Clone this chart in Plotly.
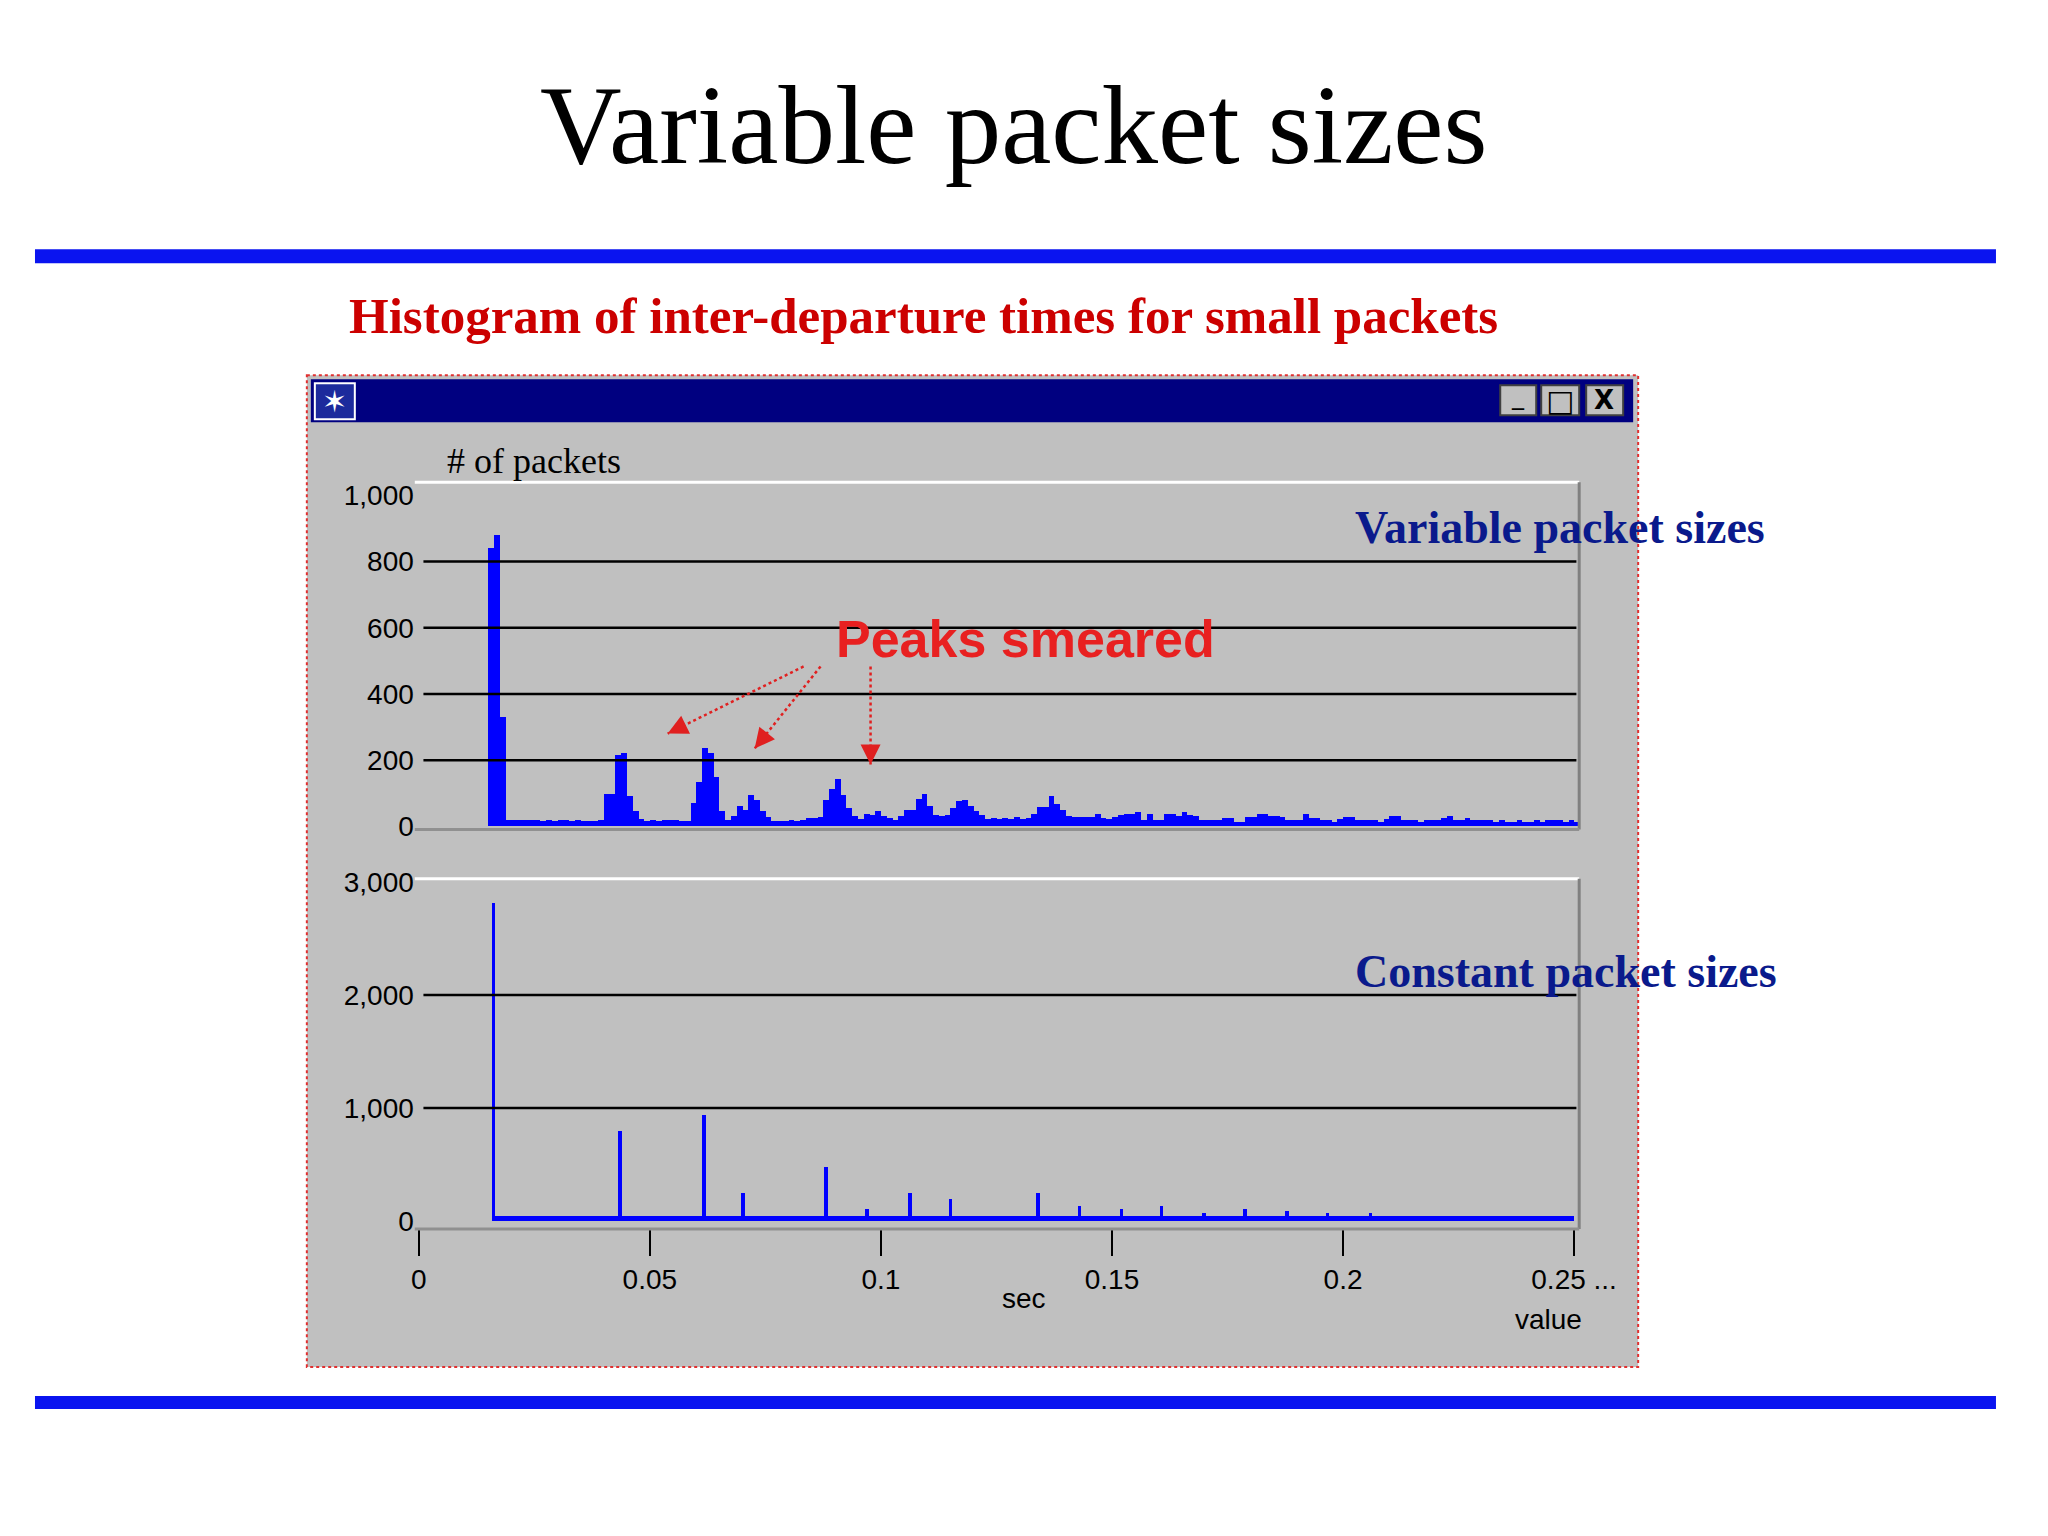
import plotly.graph_objects as go
from plotly.subplots import make_subplots

# top histogram: bin width 0.00125 s, counts per bin starting at bin 12
bin_width = 0.00125
first_bin = 12
var_counts = [
    840, 880, 330, 20, 20, 20, 20, 20, 20, 15, 20, 15, 20, 20, 15, 20, 15, 15, 15, 20,
    98, 98, 215, 220, 90, 45, 23, 15, 20, 15, 20, 20, 20, 15, 15,
    70, 135, 235, 220, 150, 46, 20,
    30, 60, 50, 95, 80, 45, 28, 15, 15, 15, 18, 15, 20, 25, 25, 28,
    80, 114, 144, 95, 55, 30, 23, 37, 33, 45, 30, 25, 20, 30, 48, 48, 83, 98, 60, 35,
    30, 35, 55, 75, 78, 62, 45, 35, 23, 25, 22, 25, 22, 28, 22, 25,
    36, 58, 58, 90, 68, 50, 32, 28, 28, 28, 28, 36, 26, 23, 28, 33, 38, 38, 43, 18,
    36, 20, 20, 36, 36, 30, 43, 33, 30, 20, 20, 20, 20, 26, 26, 14, 14, 28, 28, 36,
    36, 30, 30, 28, 20, 20, 20, 36, 26, 26, 20, 20, 13, 23, 28, 28, 20, 20, 20, 20,
    13, 23, 30, 30, 20, 20, 20, 13, 20, 20, 20, 26, 30, 20, 20, 26, 20, 20, 20, 20,
    13, 20, 13, 13, 20, 13, 13, 20, 13, 20, 20, 20, 13, 20, 13, 20,
]
var_x = [(first_bin + i + 0.5) * bin_width for i in range(len(var_counts))]

# bottom histogram: isolated spikes
const_x = [0.0161, 0.0435, 0.0616, 0.0701, 0.0760, 0.0881, 0.0969, 0.1062, 0.1150, 0.1250,
           0.1339, 0.1429, 0.1520, 0.1607, 0.1698, 0.1788, 0.1879, 0.1966, 0.2059, 0.2147,
           0.2243, 0.2336, 0.2424]
const_counts = [2820, 800, 940, 250, 20, 485, 110, 250, 200, 45,
                250, 135, 110, 135, 70, 110, 90, 70, 70, 20,
                45, 45, 20]
const_floor = 45

top_grid = [200, 400, 600, 800]
bottom_grid = [1000, 2000]
top_ticks = [0, 200, 400, 600, 800, 1000]
bottom_ticks = [0, 1000, 2000, 3000]
x_ticks = [0, 0.05, 0.1, 0.15, 0.2, 0.25]
x_ticktext = ['0', '0.05', '0.1', '0.15', '0.2', '0.25 ...']

W, H = 2048, 1536
# the page shows the figure slightly shrunk and offset; compensate
SX, OX, SY, OY = 0.98, 11, 0.983, 20
def px(x): return (x - OX) / (SX * W)
def py(y): return 1 - (y - OY) / (SY * H)

fig = make_subplots(rows=2, cols=1)
fig.add_trace(go.Bar(x=var_x, y=var_counts, width=bin_width, marker_color='#0000ff',
                     marker_line_width=0), row=1, col=1)
fig.add_trace(go.Bar(x=[(0.016 + 0.25) / 2], y=[const_floor], width=0.25 - 0.016,
                     marker_color='#0000ff', marker_line_width=0), row=2, col=1)
fig.add_trace(go.Bar(x=const_x, y=const_counts, width=0.0008, marker_color='#0000ff',
                     marker_line_width=0), row=2, col=1)

tickfont = dict(family='Liberation Sans Narrow, Liberation Sans', size=28, color='black')
fig.update_layout(
    width=W, height=H, margin=dict(l=0, r=0, t=0, b=0), showlegend=False,
    paper_bgcolor='white', plot_bgcolor='#c0c0c0', bargap=0, barmode='overlay',
    xaxis=dict(domain=[px(414), px(1579)], range=[-0.00087, 0.2511], showticklabels=False,
               showgrid=False, zeroline=False),
    yaxis=dict(domain=[py(829), py(482)], range=[-9, 1039], tickvals=top_ticks,
               tickformat=',', showgrid=False, zeroline=False, tickfont=tickfont),
    xaxis2=dict(domain=[px(414), px(1579)], range=[-0.00087, 0.2511], tickvals=x_ticks,
                ticktext=x_ticktext, ticks='outside', ticklen=26, tickwidth=2, tickcolor='black',
                showgrid=False, zeroline=False, tickfont=tickfont),
    yaxis2=dict(domain=[py(1228), py(878)], range=[-70, 3030], tickvals=bottom_ticks,
                tickformat=',', showgrid=False, zeroline=False, tickfont=tickfont),
)

shapes = [
    # slide rules
    dict(type='rect', xref='paper', yref='paper', x0=px(34), x1=px(1996), y0=py(249), y1=py(263),
         fillcolor='#0a14f0', line_width=0, layer='below'),
    dict(type='rect', xref='paper', yref='paper', x0=px(34), x1=px(1996), y0=py(1395), y1=py(1408),
         fillcolor='#0a14f0', line_width=0, layer='below'),
    # window
    dict(type='rect', xref='paper', yref='paper', x0=px(306), x1=px(1638), y0=py(375), y1=py(1366),
         fillcolor='#c0c0c0', line=dict(color='#e03030', width=2, dash='dot'), layer='below'),
    dict(type='rect', xref='paper', yref='paper', x0=px(310), x1=px(1633), y0=py(379), y1=py(422),
         fillcolor='#000080', line_width=0, layer='below'),
    dict(type='rect', xref='paper', yref='paper', x0=px(314), x1=px(354), y0=py(383), y1=py(419),
         fillcolor='#1c2a9c', line=dict(color='white', width=2), layer='below'),
]
for x0, x1 in [(1500, 1536), (1541, 1579), (1586, 1623)]:
    shapes.append(dict(type='rect', xref='paper', yref='paper', x0=px(x0), x1=px(x1),
                       y0=py(385), y1=py(415), fillcolor='#c0c0c0',
                       line=dict(color='#404040', width=2), layer='below'))
# gridlines
for g in top_grid:
    shapes.append(dict(type='line', xref='x', yref='y', x0=0.001, x1=0.2505, y0=g, y1=g,
                       line=dict(color='black', width=2.5)))
for g in bottom_grid:
    shapes.append(dict(type='line', xref='x2', yref='y2', x0=0.001, x1=0.2505, y0=g, y1=g,
                       line=dict(color='black', width=2.5)))
# sunken plot frames
for top, bot in [(482, 829), (878, 1228)]:
    shapes.append(dict(type='line', xref='paper', yref='paper', x0=px(414), x1=px(1579),
                       y0=py(top), y1=py(top), line=dict(color='white', width=3)))
    shapes.append(dict(type='line', xref='paper', yref='paper', x0=px(1579), x1=px(1579),
                       y0=py(top), y1=py(bot), line=dict(color='#808080', width=3)))
    shapes.append(dict(type='line', xref='paper', yref='paper', x0=px(414), x1=px(1579),
                       y0=py(bot), y1=py(bot), line=dict(color='#909090', width=3)))
# dotted arrow shafts
arrows = [((803, 666), (667, 733)), ((820, 666), (754, 748)), ((870, 666), (870, 764))]
for (x0, y0), (x1, y1) in arrows:
    shapes.append(dict(type='line', xref='paper', yref='paper', x0=px(x0), y0=py(y0),
                       x1=px(x1), y1=py(y1), line=dict(color='#e02020', width=2.5, dash='dot')))
fig.update_layout(shapes=shapes)

def note(text, x, y, size, color, family, bold=False, xanchor='center'):
    t = f'<b>{text}</b>' if bold else text
    fig.add_annotation(text=t, x=px(x), y=py(y), xref='paper', yref='paper', showarrow=False,
                       xanchor=xanchor, yanchor='middle',
                       font=dict(size=size, color=color, family=family))

serif = 'Liberation Serif'
narrow = 'Liberation Sans Narrow, Liberation Sans'
note('Variable packet sizes', 1013, 124, 113, 'black', serif)
note('Histogram of inter-departure times for small packets', 923, 316, 51, '#cc0000', serif, True)
note('# of packets', 444, 461, 36, 'black', serif, xanchor='left')
note('Variable packet sizes', 1353, 527, 46, '#0a1a8c', serif, True, 'left')
note('Constant packet sizes', 1353, 971, 46, '#0a1a8c', serif, True, 'left')
note('Peaks smeared', 1025, 639, 52, '#e82020', 'Liberation Sans', True)
note('sec', 1024, 1298, 28, 'black', narrow)
note('value', 1548, 1319, 28, 'black', narrow)
note('✶', 334, 401, 30, 'white', 'DejaVu Sans')
note('_', 1518, 396, 24, 'black', 'DejaVu Sans')
note('□', 1560, 400, 30, 'black', 'DejaVu Sans')
note('X', 1604, 400, 26, 'black', 'DejaVu Sans', True)

# arrow heads at shaft ends
for (x0, y0), (x1, y1) in arrows:
    dx, dy = x0 - x1, y0 - y1
    n = (dx * dx + dy * dy) ** 0.5
    fig.add_annotation(x=px(x1), y=py(y1), xref='paper', yref='paper', text='',
                       showarrow=True, arrowhead=2, arrowsize=1.6, arrowwidth=2.5,
                       arrowcolor='#e02020', ax=dx / n * 14, ay=dy / n * 14)

fig.write_html('out.html')
